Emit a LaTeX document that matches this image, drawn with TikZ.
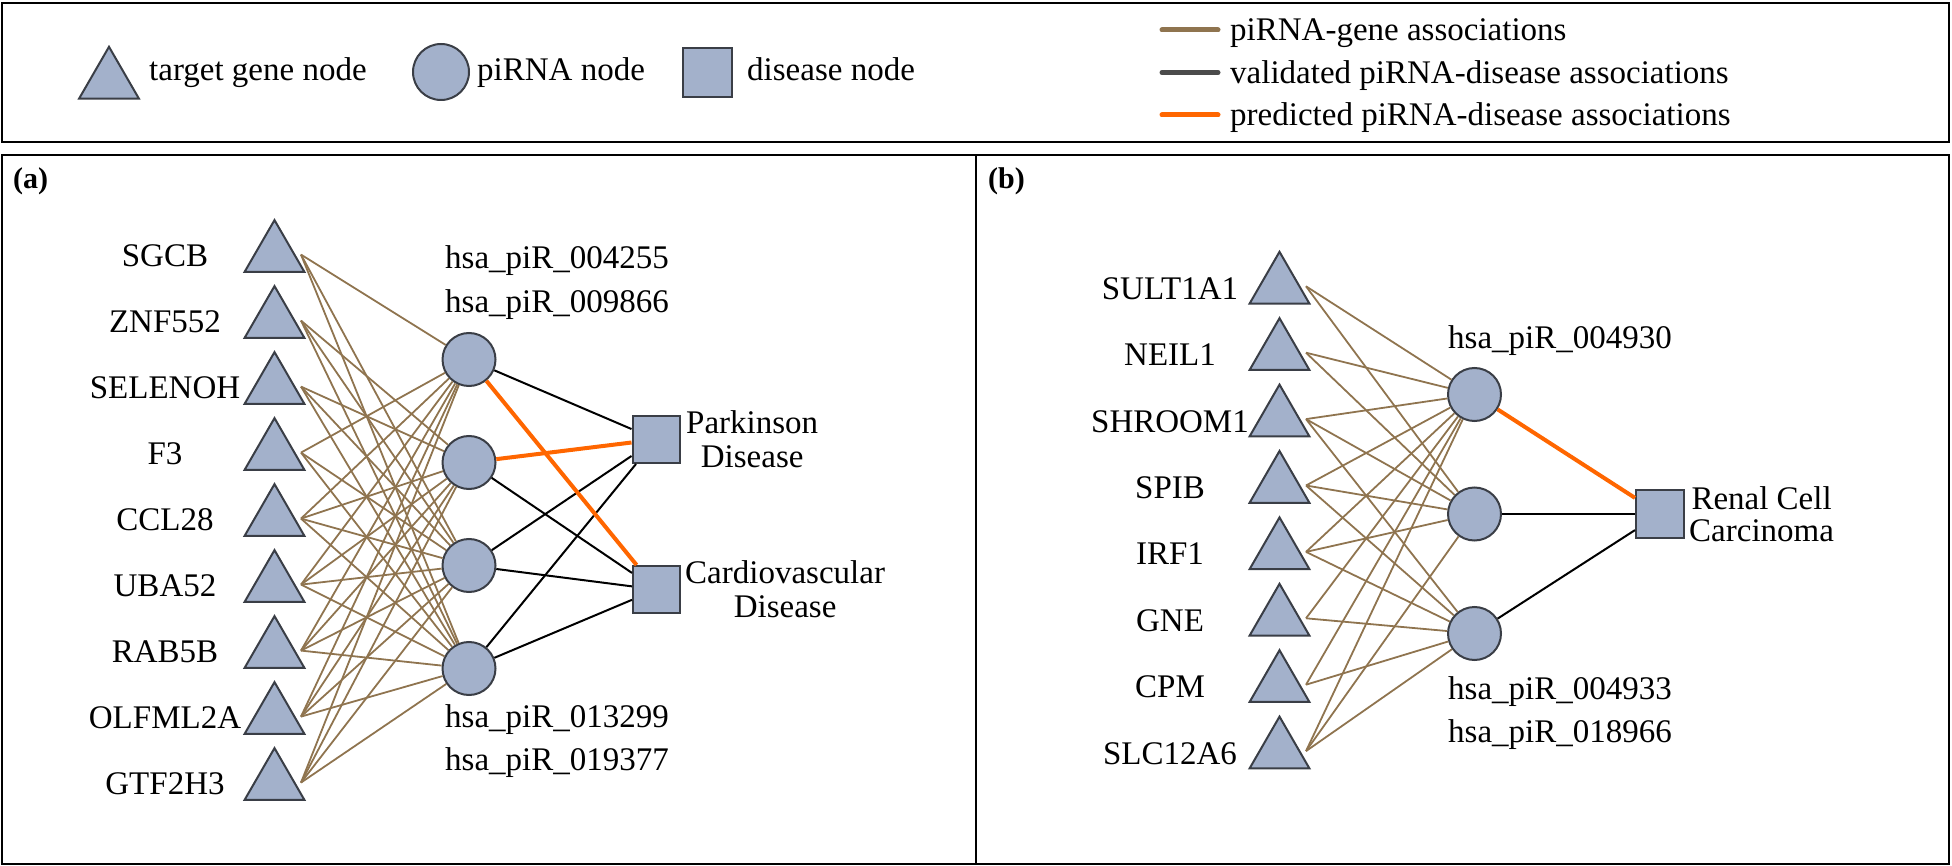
\documentclass[tikz,border=0pt]{standalone}
\usepackage{fontspec}
\setmainfont{LiberationSerif}[Extension=.ttf, UprightFont=*-Regular, BoldFont=*-Bold, ItalicFont=*-Italic, BoldItalicFont=*-BoldItalic]
\usetikzlibrary{shapes.geometric}
\definecolor{nfill}{RGB}{163,177,203}
\definecolor{nborder}{RGB}{58,62,70}
\definecolor{brownedge}{RGB}{143,116,79}
\definecolor{orangeedge}{RGB}{255,102,0}
\definecolor{grayedge}{RGB}{75,75,75}
\begin{document}
\begin{tikzpicture}[x=1pt,y=-1pt, font=\fontsize{33}{34}\selectfont,
 genenode/.style={regular polygon, regular polygon sides=3, minimum size=69pt, inner sep=0pt, fill=nfill, draw=nborder, line width=2pt},
 pinode/.style={circle, minimum size=53pt, inner sep=0pt, fill=nfill, draw=nborder, line width=2pt},
 disnode/.style={rectangle, minimum size=47pt, inner sep=0pt, fill=nfill, draw=nborder, line width=2pt},
 glabel/.style={anchor=base, inner sep=0pt},
 txt/.style={anchor=base west, inner sep=0pt},
 pglink/.style={draw=brownedge, line width=1.8pt},
 vallink/.style={draw=black, line width=2pt},
 predlink/.style={draw=orangeedge, line width=4pt},
 frame/.style={draw=black, line width=2.5pt},
 legline/.style={line width=5pt, line cap=round},
 panellab/.style={anchor=base west, inner sep=0pt, font=\fontsize{30}{30}\selectfont\bfseries},
]
\useasboundingbox (0,0) rectangle (1952,866);

% frames
\draw[frame] (2,3) rectangle (1949,142);
\draw[frame] (2,155) rectangle (976,864);
\draw[frame] (976,155) rectangle (1949,864);

% legend
\node[genenode] (lg) at (109,81.3) {};
\node[txt] (lgt) at (149,81) {target gene node};
\node[pinode, minimum size=56pt] (lp) at (441,72) {};
\node[txt] (lpt) at (477,81) {piRNA node};
\node[disnode, minimum size=49pt] (ld) at (707,72.5) {};
\node[txt] (ldt) at (747,81) {disease node};
\coordinate (l1a) at (1162,30);   \coordinate (l1b) at (1218,30);
\coordinate (l2a) at (1162,72.5); \coordinate (l2b) at (1218,72.5);
\coordinate (l3a) at (1162,115);  \coordinate (l3b) at (1218,115);
\draw[legline, draw=brownedge] (l1a) -- (l1b);
\draw[legline, draw=grayedge] (l2a) -- (l2b);
\draw[legline, draw=orangeedge] (l3a) -- (l3b);
\node[txt] (l1t) at (1230,41) {piRNA-gene associations};
\node[txt] (l2t) at (1230,83.5) {validated piRNA-disease associations};
\node[txt] (l3t) at (1230,126) {predicted piRNA-disease associations};

% ---------------- panel (a)
\node[panellab] (labA) at (13,189) {(a)};
\foreach \n [count=\i] in {SGCB,ZNF552,SELENOH,F3,CCL28,UBA52,RAB5B,OLFML2A,GTF2H3} {
  \pgfmathsetmacro\yy{254.6+66*(\i-1)}
  \node[genenode] (ga\i) at (274.5,\yy) {};
  \node[glabel] (gal\i) at (165,\yy+12) {\n};
  \coordinate (gap\i) at (301,\yy);
}
\node[pinode] (pa1) at (469,359.5) {};
\node[pinode] (pa2) at (469,462.5) {};
\node[pinode] (pa3) at (469,565.5) {};
\node[pinode] (pa4) at (469,668.5) {};
\node[disnode] (da1) at (656,439.5) {};
\node[disnode] (da2) at (656.5,589.5) {};
\node[anchor=west, align=center, inner sep=0pt] (dal1) at (686,439) {Parkinson\\Disease};
\node[anchor=west, align=center, inner sep=0pt] (dal2) at (685,589) {Cardiovascular\\Disease};
\node[anchor=north west, align=left, inner sep=0pt, font=\fontsize{33}{44}\selectfont] (pal1) at (445,245.5) {hsa\_piR\_004255\\hsa\_piR\_009866};
\node[anchor=north west, align=left, inner sep=0pt, font=\fontsize{33}{43}\selectfont] (pal2) at (445,704.5) {hsa\_piR\_013299\\hsa\_piR\_019377};

\foreach \g/\p in {1/1,1/3,1/4,2/2,2/3,2/4,3/2,3/3,3/4,4/1,4/3,4/4} {
  \draw[pglink] (gap\g) -- (pa\p);
}
\foreach \g in {5,...,9} {
  \foreach \p in {1,...,4} {
    \draw[pglink] (gap\g) -- (pa\p);
  }
}
\draw[vallink] (pa1) -- (da1);
\draw[vallink] (pa2) -- (da2);
\draw[vallink] (pa3) -- (da1);
\draw[vallink] (pa3) -- (da2);
\draw[vallink] (pa4) -- (da1);
\draw[vallink] (pa4) -- (da2);
\draw[predlink] (pa1) -- (da2);
\draw[predlink] (pa2) -- (da1);

% ---------------- panel (b)
\node[panellab] (labB) at (988,189) {(b)};
\foreach \n [count=\i] in {SULT1A1,NEIL1,SHROOM1,SPIB,IRF1,GNE,CPM,SLC12A6} {
  \pgfmathsetmacro\yy{286.3+66.4*(\i-1)}
  \node[genenode] (gb\i) at (1279.5,\yy) {};
  \node[glabel] (gbl\i) at (1170,\yy+13) {\n};
  \coordinate (gbp\i) at (1306,\yy);
}
\node[pinode] (pb1) at (1474.5,394.5) {};
\node[pinode] (pb2) at (1474.5,514) {};
\node[pinode] (pb3) at (1474.5,633.5) {};
\node[disnode, minimum size=48pt] (db1) at (1660,514) {};
\node[anchor=west, align=center, inner sep=0pt, font=\fontsize{33}{32}\selectfont] (dbl1) at (1689,514) {Renal Cell\\Carcinoma};
\node[txt] (pbl1) at (1448,348.5) {hsa\_piR\_004930};
\node[anchor=north west, align=left, inner sep=0pt, font=\fontsize{33}{43}\selectfont] (pbl2) at (1448,676.2) {hsa\_piR\_004933\\hsa\_piR\_018966};

\foreach \g/\p in {1/1,1/2,2/1,2/2,3/1,3/2,3/3,4/1,4/2,4/3,5/1,5/2,5/3,6/1,6/3,7/1,7/3,8/1,8/2,8/3} {
  \draw[pglink] (gbp\g) -- (pb\p);
}
\draw[predlink] (pb1) -- (db1);
\draw[vallink] (pb2) -- (db1);
\draw[vallink] (pb3) -- (db1);
\end{tikzpicture}
\end{document}
